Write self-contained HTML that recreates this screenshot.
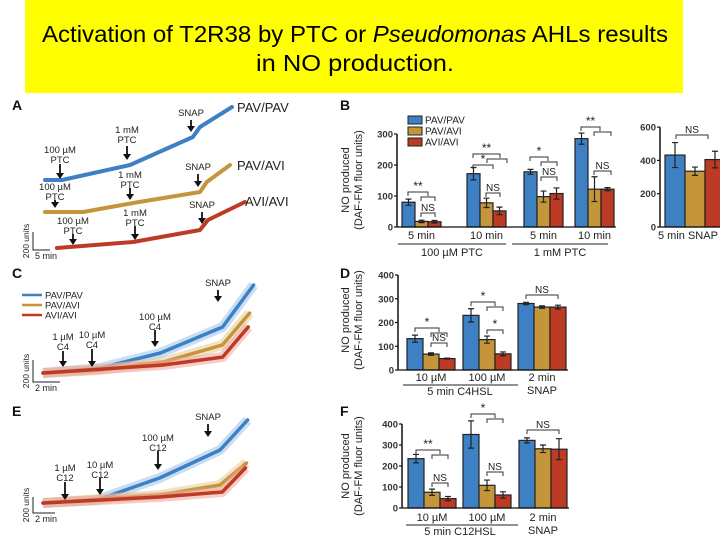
<!DOCTYPE html>
<html><head><meta charset="utf-8"><style>
html,body{margin:0;padding:0;background:#fff;width:720px;height:540px;overflow:hidden}
svg{display:block;font-family:"Liberation Sans",Arial,sans-serif}
</style></head><body>
<svg id="root" width="720" height="540" viewBox="0 0 720 540">
<rect x="25" y="0" width="658" height="93" fill="#ffff00"/>
<text x="355" y="42" font-size="23" text-anchor="middle" textLength="626" lengthAdjust="spacingAndGlyphs">Activation of T2R38 by PTC or <tspan font-style="italic">Pseudomonas</tspan> AHLs results</text>
<text x="355" y="71" font-size="23" text-anchor="middle" textLength="198" lengthAdjust="spacingAndGlyphs">in NO production.</text>
<g id="g"></g>
</svg>
<script>
// ---- Data ----
const groupsB = ["5 min","10 min","5 min","10 min"];
const bPav = [80,172,178,285], bPavAvi = [18,78,98,122], bAvi = [17,52,108,122];
const bPavErr = [10,20,8,18], bPavAviErr = [4,15,18,40], bAviErr = [4,12,18,5];
const ticksB = [0,100,200,300];
const snapVals = [432,335,405], snapErr = [75,25,50];
const ticksSnap = [0,200,400,600];
const groupsD = ["10 µM","100 µM","2 min"];
const dPav = [132,230,280], dPavAvi = [67,128,265], dAvi = [48,68,265];
const dPavErr = [15,28,5], dPavAviErr = [5,15,5], dAviErr = [2,8,8];
const groupsF = ["10 µM","100 µM","2 min"];
const fPav = [235,350,322], fPavAvi = [75,108,282], fAvi = [45,62,280];
const fPavErr = [20,65,12], fPavAviErr = [15,25,18], fAviErr = [10,15,50];
const ticksDF = [0,100,200,300,400];
// traces: time (min) and value (units)
const aPavT=[0,5,25,43.5,45.6,55], aPavV=[0,0,167,478,589,811];
const aMixT=[0,11.2,25.9,45.6,47.6,54.4], aMixV=[0,0,100,222,333,522];
const aAviT=[3.5,25.9,45.6,47.9,58.8], aAviV=[0,67,200,311,511];
const cPavT=[0,4.2,8.7,13.3,15.6], cPavV=[0,45,182,418,800];
const cMixT=[0,4.2,8.9,13.3,15.3], cMixV=[0,27,100,255,545];
const cAviT=[0,8.9,13.3,15.2], cAviV=[0,73,145,418];
const ePavT=[0,4.9,10.6,16.1,18.6], ePavV=[0,38,313,663,1038];
const eMixT=[0,10.6,16.1,18.5], eMixV=[0,100,225,500];
const eAviT=[0,10.6,16.3,18.4], eAviV=[0,75,138,438];

const BLUE="#3d80c4", GOLD="#c4953a", RED="#bd3a25";
const NS="http://www.w3.org/2000/svg";
const G=document.getElementById('g');
function el(tag,attrs,parent){const e=document.createElementNS(NS,tag);for(const k in attrs)e.setAttribute(k,attrs[k]);(parent||G).appendChild(e);return e;}
function txt(x,y,s,size,anchor,extra){const e=el('text',Object.assign({x:x,y:y,'font-size':size,'text-anchor':anchor||'middle',fill:'#222'},extra||{}));e.textContent=s;return e;}

[["A",12,110],["B",340,110],["C",12,278],["D",340,278],["E",12,416],["F",340,416]].forEach(p=>{
  const t=txt(p[1],p[2],p[0],14,'start',{'font-weight':'bold','fill':'#111'});
  
  
});

function trace(ts,vs,x0,pxPerMin,y0,pxPerUnit,color,w,name,band){
  const pts=ts.map((t,i)=>(x0+t*pxPerMin).toFixed(1)+","+(y0-vs[i]*pxPerUnit).toFixed(1)).join(" ");
  if(band){
    const b=el('polyline',{points:pts,fill:'none',stroke:band,'stroke-width':10,'stroke-linejoin':'round','opacity':0.55});
    
    
  }
  const p=el('polyline',{points:pts,fill:'none',stroke:color,'stroke-width':w,'stroke-linejoin':'round','stroke-linecap':'round'});
  
  
}
function arrow(x,y1,y2,name){
  const l=el('line',{x1:x,y1:y1,x2:x,y2:y2-3,stroke:'#111','stroke-width':1.8});
  
  
  el('polygon',{points:`${x-4},${y2-5} ${x+4},${y2-5} ${x},${y2+1}`,fill:'#111'});
}
function ann(x,lines,yTop,a1,a2,name){
  lines.forEach((s,i)=>{const t=txt(x,yTop+i*10,s,9.5,'middle');});
  arrow(x,a1,a2,name+'-arrow');
}
function scaleBar(x,yTop,yBot,xEnd,label,name){
  const p=el('polyline',{points:`${x},${yTop} ${x},${yBot} ${xEnd},${yBot}`,fill:'none',stroke:'#222','stroke-width':1});
  
  
  const t=txt(x+2,yBot+9,label,9,'start');
  const u=txt(0,0,"200 units",8.5,'middle',{transform:`translate(${x-4},${(yTop+yBot)/2}) rotate(-90)`});
  
}

trace(aPavT,aPavV,45,3.4,180,0.09,BLUE,4,'trace-a-pav-pav');
trace(aMixT,aMixV,45,3.4,212,0.09,GOLD,4,'trace-a-pav-avi');
trace(aAviT,aAviV,45,3.4,248,0.09,RED,4,'trace-a-avi-avi');
[["PAV/PAV",237,112],["PAV/AVI",237,170],["AVI/AVI",245,206]].forEach(l=>{const t=txt(l[1],l[2],l[0],13,'start');});
ann(60,["100 µM","PTC"],153,164,178,'a-pav-100um');
ann(127,["1 mM","PTC"],133,146,159,'a-pav-1mm');
ann(191,["SNAP"],116,120,131,'a-pav-snap');
ann(55,["100 µM","PTC"],190,200,207,'a-mix-100um');
ann(130,["1 mM","PTC"],178,188,199,'a-mix-1mm');
ann(198,["SNAP"],170,174,186,'a-mix-snap');
ann(73,["100 µM","PTC"],224,234,244,'a-avi-100um');
ann(135,["1 mM","PTC"],216,226,239,'a-avi-1mm');
ann(202,["SNAP"],208,212,223,'a-avi-snap');
scaleBar(33,232,250,50,"5 min",'a-scale-bar');

trace(cPavT,cPavV,43,13.5,373,0.11,BLUE,3.5,'trace-c-pav-pav','#9cc3ea');
trace(cMixT,cMixV,43,13.5,373,0.11,GOLD,3.5,'trace-c-pav-avi','#e6cb8c');
trace(cAviT,cAviV,43,13.5,373,0.11,RED,3.5,'trace-c-avi-avi','#f0a4a0');
[["PAV/PAV",BLUE,295],["PAV/AVI",GOLD,305],["AVI/AVI",RED,315]].forEach(l=>{
  const ln=el('line',{x1:22,y1:l[2],x2:42,y2:l[2],stroke:l[1],'stroke-width':2.5});
  
  const t=txt(45,l[2]+3.5,l[0],9.5,'start');
});
ann(63,["1 µM","C4"],340,351,366,'c-1um');
ann(92,["10 µM","C4"],338,349,366,'c-10um');
ann(155,["100 µM","C4"],320,330,346,'c-100um');
ann(218,["SNAP"],286,290,301,'c-snap');
scaleBar(33,360,382,60,"2 min",'c-scale-bar');

trace(ePavT,ePavV,43,11,503,0.08,BLUE,3.5,'trace-e-pav-pav','#9cc3ea');
trace(eMixT,eMixV,43,11,503,0.08,GOLD,3.5,'trace-e-pav-avi','#e6cb8c');
trace(eAviT,eAviV,43,11,503,0.08,RED,3.5,'trace-e-avi-avi','#f0a4a0');
ann(65,["1 µM","C12"],471,482,499,'e-1um');
ann(100,["10 µM","C12"],468,478,494,'e-10um');
ann(158,["100 µM","C12"],441,451,469,'e-100um');
ann(208,["SNAP"],420,424,436,'e-snap');
scaleBar(33,497,513,55,"2 min",'e-scale-bar');

function barChart(o){
  const y=v=>o.y0-v*o.pxPerUnit;
  const ax=el('polyline',{points:`${o.axisX},${y(o.ticks[o.ticks.length-1])} ${o.axisX},${o.y0}`,stroke:'#111','stroke-width':1.5,fill:'none'});
  
  o.ticks.forEach(t=>{
    el('line',{x1:o.axisX-3,y1:y(t),x2:o.axisX,y2:y(t),stroke:'#111','stroke-width':1.2});
    const tl=txt(o.axisX-4,y(t)+3.5,String(t),9.5,'end',{'font-weight':'bold','fill':'#333'});
    
  });
  const series=[[o.s1,o.e1,BLUE,'pav-pav'],[o.s2,o.e2,GOLD,'pav-avi'],[o.s3,o.e3,RED,'avi-avi']];
  o.starts.forEach((sx,gi)=>{
    series.forEach((s,si)=>{
      const bx=sx+si*o.bw, v=s[0][gi], e=s[1][gi];
      const r=el('rect',{x:bx,y:y(v),width:o.bw,height:v*o.pxPerUnit,fill:s[2],stroke:'#222','stroke-width':1.2});
      
      
      const cx=bx+o.bw/2;
      const eb=el('path',{d:`M${cx},${y(v-e)}V${y(v+e)}M${cx-3},${y(v+e)}H${cx+3}M${cx-3},${y(v-e)}H${cx+3}`,stroke:'#222','stroke-width':1.2,fill:'none'});
      
      
    });
    if(o.labels){
      const gl=txt(sx+o.bw*1.5,o.labelY,o.labels[gi],11,'middle');
      
    }
  });
  el('line',{x1:o.axisX,y1:o.y0,x2:o.xEnd,y2:o.y0,stroke:'#111','stroke-width':1.2});
}
function yTitle(cx,cy,name){
  const a=txt(0,0,"NO produced",11,'middle',{transform:`translate(${cx},${cy}) rotate(-90)`});
  
  const b=txt(0,0,"(DAF-FM fluor units)",11,'middle',{transform:`translate(${cx+13},${cy}) rotate(-90)`});
  
}
function bracket(x1,x2,yy,label,name){
  const p=el('path',{d:`M${x1},${yy+4}V${yy}H${x2}V${yy+4}`,stroke:'#333','stroke-width':1,fill:'none'});
  
  if(label){const t=txt((x1+x2)/2,yy-2,label,label==='NS'?10:12,'middle');}
}

barChart({name:'b',axisX:397,y0:227,pxPerUnit:0.31,ticks:ticksB,starts:[402,467,524,575],bw:13,s1:bPav,s2:bPavAvi,s3:bAvi,e1:bPavErr,e2:bPavAviErr,e3:bAviErr,labels:groupsB,labelY:239,xEnd:616});
yTitle(349,180,'b');
el('line',{x1:398,y1:244,x2:506,y2:244,stroke:'#222'});
el('line',{x1:512,y1:244,x2:608,y2:244,stroke:'#222'});
txt(452,256,"100 µM PTC",11,'middle');
txt(560,256,"1 mM PTC",11,'middle');
[["PAV/PAV",BLUE,120],["PAV/AVI",GOLD,131],["AVI/AVI",RED,142]].forEach(l=>{
  const r=el('rect',{x:408,y:l[2]-4,width:14,height:8,fill:l[1],stroke:'#222','stroke-width':1});
  
  const t=txt(425,l[2]+3.5,l[0],10,'start');
});
bracket(408,428,192,'**','b-sig-g1-main');bracket(421,435,197,'','b-sig-g1-sub');bracket(421,435,213,'NS','b-sig-g1-ns');
bracket(473,500,154,'**','b-sig-g2-main');bracket(487,507,159,'','b-sig-g2-sub');bracket(473,493,165,'*','b-sig-g2-star');bracket(486,500,193,'NS','b-sig-g2-ns');
bracket(530,548,157,'*','b-sig-g3-main');bracket(541,557,162,'','b-sig-g3-sub');bracket(541,557,177,'NS','b-sig-g3-ns');
bracket(581,600,127,'**','b-sig-g4-main');bracket(594,611,132,'','b-sig-g4-sub');bracket(594,611,171,'NS','b-sig-g4-ns');
barChart({name:'b-snap',axisX:660,y0:227,pxPerUnit:0.1665,ticks:ticksSnap,starts:[665],bw:20,s1:[snapVals[0]],s2:[snapVals[1]],s3:[snapVals[2]],e1:[snapErr[0]],e2:[snapErr[1]],e3:[snapErr[2]],xEnd:720});
txt(658,239,"5 min SNAP",11,'start');
bracket(676,708,135,'NS','b-snap-sig-ns');

barChart({name:'d',axisX:398,y0:370,pxPerUnit:0.2375,ticks:ticksDF,starts:[407,463,518],bw:16,s1:dPav,s2:dPavAvi,s3:dAvi,e1:dPavErr,e2:dPavAviErr,e3:dAviErr,labels:groupsD,labelY:381,xEnd:568});
yTitle(349,320,'d');
el('line',{x1:403,y1:385,x2:518,y2:385,stroke:'#222'});
txt(460,395,"5 min C4HSL",11,'middle');
txt(542,394,"SNAP",11,'middle');
bracket(415,439,328,'*','d-sig-g1-main');bracket(431,447,333,'','d-sig-g1-sub');bracket(431,447,343,'NS','d-sig-g1-ns');
bracket(471,495,302,'*','d-sig-g2-main');bracket(487,503,307,'','d-sig-g2-sub');bracket(487,503,330,'*','d-sig-g2-star');
bracket(526,558,295,'NS','d-sig-g3-ns');

barChart({name:'f',axisX:402,y0:508,pxPerUnit:0.21,ticks:ticksDF,starts:[408,463,519],bw:16,s1:fPav,s2:fPavAvi,s3:fAvi,e1:fPavErr,e2:fPavAviErr,e3:fAviErr,labels:groupsF,labelY:521,xEnd:569});
yTitle(349,466,'f');
el('line',{x1:406,y1:525,x2:518,y2:525,stroke:'#222'});
txt(460,535,"5 min C12HSL",11,'middle');
txt(543,534,"SNAP",11,'middle');
bracket(416,440,450,'**','f-sig-g1-main');bracket(432,448,455,'','f-sig-g1-sub');bracket(432,448,483,'NS','f-sig-g1-ns');
bracket(471,495,414,'*','f-sig-g2-main');bracket(487,503,419,'','f-sig-g2-sub');bracket(487,503,472,'NS','f-sig-g2-ns');
bracket(527,559,430,'NS','f-sig-g3-ns');
</script>
</body></html>
